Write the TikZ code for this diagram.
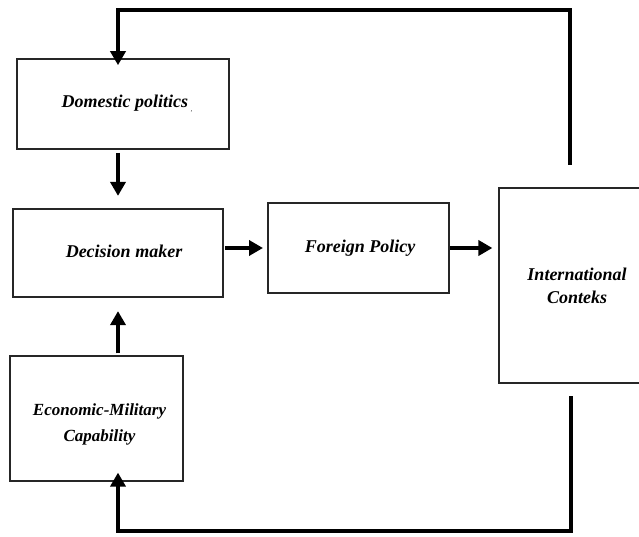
\documentclass[tikz,border=0pt]{standalone}
\usepackage{fontspec}
\setmainfont{Liberation Serif}
\usetikzlibrary{arrows.meta}
\tikzset{
  box/.style={draw=black!85, line width=1.6pt, fill=white, inner sep=0pt, align=center,
    font=\fontsize{18}{23}\selectfont\bfseries\itshape},
  conn/.style={line width=4.5pt, -{Triangle[width=15pt,length=14pt]}},
  line/.style={line width=4.5pt}
}
\begin{document}
\begin{tikzpicture}[x=1pt,y=-1pt]
\useasboundingbox (0,0) rectangle (639,537);
\node[box, minimum width=212pt, minimum height=90pt] (dom) at (123,104) {\hspace*{8pt}Domestic politics\,{\raisebox{-0.5ex}{\tiny ,}}};
\node[box, line width=2.2pt, minimum width=210pt, minimum height=88pt] (dec) at (118,253) {\hspace*{12pt}\raisebox{3pt}{Decision maker}};
\node[box, line width=2pt, minimum width=181pt, minimum height=90pt] (fp) at (358.5,248) {\hspace*{3pt}Foreign Policy};
\node[box, line width=1.2pt, minimum width=156pt, minimum height=195pt] (ic) at (577,285.5) {International\\Conteks};
\node[box, line width=1.2pt, minimum width=173pt, minimum height=125pt,
      font=\fontsize{17}{26}\selectfont\bfseries\itshape] (eco) at (96.5,418.5) {\rule{0pt}{23pt}\hspace*{6pt}Economic-Military\\\hspace*{6pt}Capability};
\coordinate (t1) at (570,163);
\coordinate (t2) at (118,10);
\coordinate (b1) at (571,398);
\coordinate (b2) at (118,531);
% top feedback
\draw[line, line cap=rect] (t1) |- (t2);
\draw[conn] (t2) -- ([yshift=-7pt]t2 |- dom.north);
% domestic -> decision
\draw[conn, shorten <=3pt, shorten >=12pt] (t2 |- dom.south) -- (t2 |- dec.north);
% economic -> decision
\draw[conn, shorten <=2pt, shorten >=13pt] (t2 |- eco.north) -- (t2 |- dec.south);
% decision -> foreign
\draw[conn, shorten <=1pt, shorten >=4pt] (dec.east |- fp.center) -- (fp.west);
% foreign -> international
\draw[conn, shorten <=0pt, shorten >=6pt] (fp.east) -- (ic.west |- fp.east);
% bottom feedback
\draw[line, line cap=rect] (b1) |- (b2);
\draw[conn] (b2) -- ([yshift=9pt]b2 |- eco.south);
\end{tikzpicture}
\end{document}
